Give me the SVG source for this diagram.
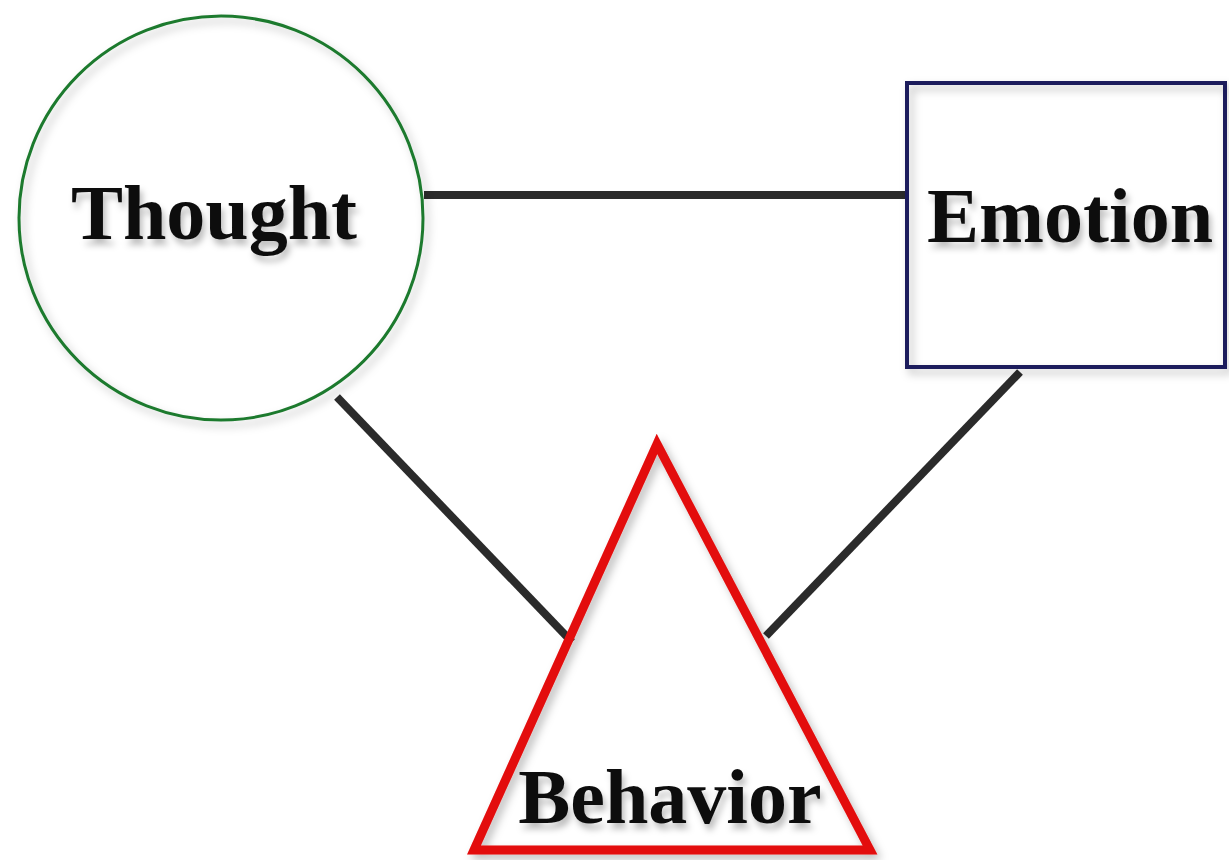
<svg xmlns="http://www.w3.org/2000/svg" width="1229" height="860" viewBox="0 0 1229 860">
<style>
.lbl{font-family:"Liberation Serif","Times New Roman",serif;font-weight:bold;font-size:78px;fill:#111;}
.conn{stroke:#2b2b2b;stroke-width:8;fill:none;}
</style>
<defs>
<filter id="sh" x="-20%" y="-20%" width="140%" height="140%">
<feDropShadow dx="4" dy="5" stdDeviation="4" flood-color="#000" flood-opacity="0.25"/>
</filter>
<filter id="tsh" x="-10%" y="-20%" width="120%" height="160%">
<feDropShadow dx="3" dy="6" stdDeviation="3" flood-color="#000" flood-opacity="0.25"/>
</filter>
</defs>
<rect width="1229" height="860" fill="#fff"/>
<g id="connectors">
<line class="conn" x1="424" y1="195" x2="905" y2="195"/>
<line class="conn" x1="337" y1="397" x2="572" y2="642"/>
<line class="conn" x1="1020" y1="372" x2="766" y2="636"/>
</g>
<g id="thought">
<circle cx="221" cy="218" r="202" fill="none" stroke="#1e7a2e" stroke-width="3" filter="url(#sh)"/>
<text class="lbl" x="214" y="239" text-anchor="middle" filter="url(#tsh)">Thought</text>
</g>
<g id="emotion">
<rect x="907" y="83" width="318" height="284" fill="none" stroke="#1c1c5c" stroke-width="4" filter="url(#sh)"/>
<text class="lbl" x="1070" y="242" text-anchor="middle" filter="url(#tsh)">Emotion</text>
</g>
<g id="behavior">
<polygon points="657,444 474,850 870,850" fill="none" stroke="#e30b0b" stroke-width="9" stroke-linejoin="miter" filter="url(#sh)"/>
<text class="lbl" x="670" y="823" text-anchor="middle" filter="url(#tsh)">Behavior</text>
</g>
</svg>
